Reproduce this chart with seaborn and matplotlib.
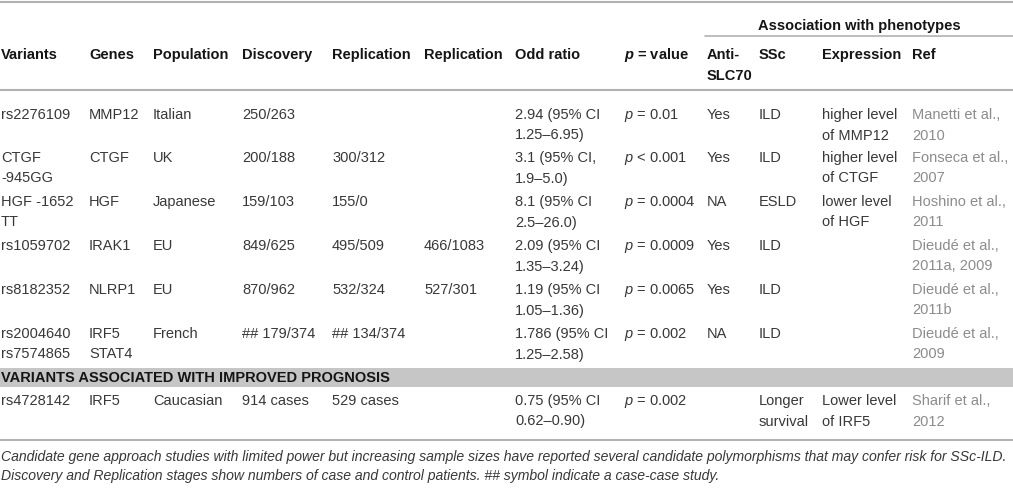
import matplotlib
matplotlib.use("Agg")
import matplotlib.pyplot as plt
import seaborn as sns

# table content, one list per column
variants = ["rs2276109", "CTGF\n-945GG", "HGF -1652\nTT", "rs1059702", "rs8182352",
            "rs2004640\nrs7574865", "rs4728142"]
genes = ["MMP12", "CTGF", "HGF", "IRAK1", "NLRP1", "IRF5\nSTAT4", "IRF5"]
population = ["Italian", "UK", "Japanese", "EU", "EU", "French", "Caucasian"]
discovery = ["250/263", "200/188", "159/103", "849/625", "870/962", "## 179/374", "914 cases"]
replication1 = ["", "300/312", "155/0", "495/509", "532/324", "## 134/374", "529 cases"]
replication2 = ["", "", "", "466/1083", "527/301", "", ""]
odd_ratio = ["2.94 (95% CI\n1.25\u20136.95)", "3.1 (95% CI,\n1.9\u20135.0)", "8.1 (95% CI\n2.5\u201326.0)",
             "2.09 (95% CI\n1.35\u20133.24)", "1.19 (95% CI\n1.05\u20131.36)",
             "1.786 (95% CI\n1.25\u20132.58)", "0.75 (95% CI\n0.62\u20130.90)"]
p_values = ["= 0.01", "< 0.001", "= 0.0004", "= 0.0009", "= 0.0065", "= 0.002", "= 0.002"]
anti_slc70 = ["Yes", "Yes", "NA", "Yes", "Yes", "NA", ""]
ssc = ["ILD", "ILD", "ESLD", "ILD", "ILD", "ILD", "Longer\nsurvival"]
expression = ["higher level\nof MMP12", "higher level\nof CTGF", "lower level\nof HGF", "", "", "",
              "Lower level\nof IRF5"]
refs = ["Manetti et al.,\n2010", "Fonseca et al.,\n2007", "Hoshino et al.,\n2011",
        "Dieud\u00e9 et al.,\n2011a, 2009", "Dieud\u00e9 et al.,\n2011b", "Dieud\u00e9 et al.,\n2009",
        "Sharif et al.,\n2012"]

headers = ["Variants", "Genes", "Population", "Discovery", "Replication", "Replication",
           "Odd ratio", "p = value", "Anti-\nSLC70", "SSc", "Expression", "Ref"]
group_header = "Association with phenotypes"
section_label = "VARIANTS ASSOCIATED WITH IMPROVED PROGNOSIS"
caption = ["Candidate gene approach studies with limited power but increasing sample sizes have reported "
           "several candidate polymorphisms that may confer risk for SSc-ILD.",
           "Discovery and Replication stages show numbers of case and control patients. "
           "## symbol indicate a case-case study."]

sns.set_theme(style="white")
plt.rcParams["font.family"] = ["Liberation Sans", "DejaVu Sans"]
plt.rcParams["mathtext.fontset"] = "custom"
plt.rcParams["mathtext.it"] = "Liberation Sans:italic"
plt.rcParams["mathtext.rm"] = "Liberation Sans"
plt.rcParams["mathtext.bfit"] = "Liberation Sans:italic:bold"

W, H = 1013, 488
fig = plt.figure(figsize=(W / 100, H / 100), dpi=100)
ax = fig.add_axes([0, 0, 1, 1])
ax.set_xlim(0, W)
ax.set_ylim(H, 0)
ax.axis("off")

FS = 10.5
head_col = "#151515"
body_col = "#383838"
ref_col = "#8c8c8c"
line_col = "#b2b2b2"
col_x = [1, 89, 153, 242, 332, 424, 515, 624, 707, 759, 822, 912]
row_y = [114, 157, 201, 245, 289, 333, 400]
line_gap = 20.5
base = 5  # baseline sits ~5px below the visual centre of capitals


def put(x, y, s, **kw):
    for i, part in enumerate(s.split("\n")):
        ax.text(x, y + base + i * line_gap, part, va="baseline", ha="left", fontsize=FS, **kw)


# rules and the shaded section band
ax.axhline(2, color=line_col, lw=1.5)
ax.plot([705, W], [36, 36], color=line_col, lw=1.2)
ax.axhline(90, color=line_col, lw=1.5)
ax.axhline(440, color=line_col, lw=1.5)
ax.axhspan(368, 387, color="#c6c6c6", lw=0)

# headers
ax.text(859, 25 + base, group_header, ha="center", va="baseline", fontsize=FS,
        fontweight="bold", color=head_col)
for x, h in zip(col_x, headers):
    if h.startswith("p ="):
        put(x, 54, r"$\mathbfit{p}$" + h[1:], fontweight="bold", color=head_col)
    else:
        put(x, 54, h, fontweight="bold", color=head_col)

# body rows
columns = [variants, genes, population, discovery, replication1, replication2, odd_ratio,
           None, anti_slc70, ssc, expression, refs]
for ci, col in enumerate(columns):
    for ri in range(len(row_y)):
        if col is None:
            put(col_x[ci], row_y[ri], r"$\mathit{p}$ " + p_values[ri], color=body_col)
        else:
            put(col_x[ci], row_y[ri], col[ri], color=ref_col if col is refs else body_col)

ax.text(1, 377 + base, section_label, va="baseline", ha="left", fontsize=FS,
        fontweight="bold", color=head_col)

for i, line in enumerate(caption):
    ax.text(1, 456 + base + i * 19, line, va="baseline", ha="left", fontsize=10.1,
            style="italic", color=body_col)

fig.savefig("out.png", dpi=100)
